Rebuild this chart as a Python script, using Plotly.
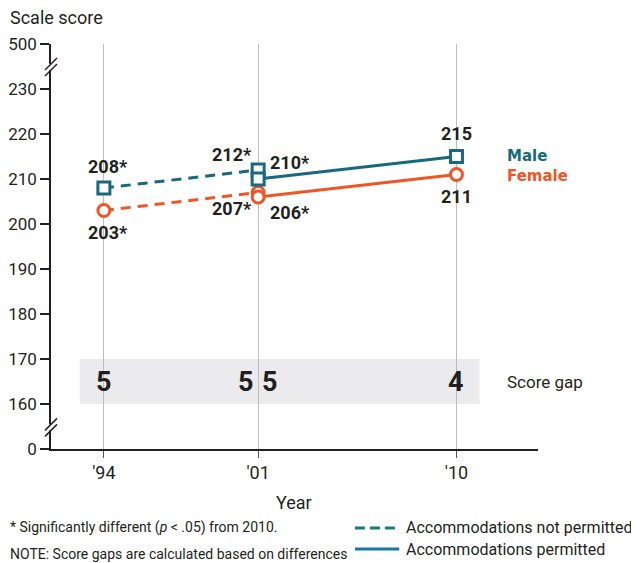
import plotly.graph_objects as go

# ---------------- data ----------------
years_np = [1994, 2001]          # accommodations not permitted
years_p = [2001, 2010]           # accommodations permitted
male_np = [208, 212]
male_p = [210, 215]
female_np = [203, 207]
female_p = [206, 211]
sig_np = [True, True]
sig_p = [True, False]
gap_years = [1994, 2001, 2001, 2010]
gap_values = [5, 5, 5, 4]        # computed from unrounded scores
gap_shift = [0, -12, 12, 0]

tick_years = [1994, 2001, 2010]
tick_year_labels = ["'94", "'01", "'10"]
y_tickvals = [150, 160, 170, 180, 190, 200, 210, 220, 230, 240]
y_ticktext = ["0", "160", "170", "180", "190", "200", "210", "220", "230", "500"]

MALE = "#17697f"
FEMALE = "#ee5527"
TEXT = "#231f20"
NARROW = "Roboto, Lato, sans-serif"
WIDE = "DejaVu Sans, sans-serif"

fig = go.Figure()

def add_series(x, y, color, symbol, dash):
    fig.add_trace(go.Scatter(
        x=x, y=y, mode="lines+markers",
        line=dict(color=color, width=3, dash=dash),
        marker=dict(symbol=symbol, size=12, color="white",
                    line=dict(color=color, width=3)),
        showlegend=False, hoverinfo="x+y"))

add_series(years_np, male_np, MALE, "square", "10px,7px")
add_series(years_np, female_np, FEMALE, "circle", "10px,7px")
add_series(years_p, male_p, MALE, "square", "solid")
add_series(years_p, female_p, FEMALE, "circle", "solid")

ann = []
def lab(x, y, v, sig, xanchor, xshift, yshift):
    ann.append(dict(x=x, y=y, xref="x", yref="y", text=f"{v}{'*' if sig else ''}",
                    showarrow=False, xanchor=xanchor, yanchor="middle",
                    xshift=xshift, yshift=yshift,
                    font=dict(family=NARROW, size=18, color=TEXT, weight="bold")))

# 1994 labels
lab(years_np[0], male_np[0], male_np[0], sig_np[0], "center", 4, 22)
lab(years_np[0], female_np[0], female_np[0], sig_np[0], "center", 4, -22)
# 2001 labels
lab(years_np[1], male_np[1], male_np[1], sig_np[1], "right", -4, 16)
lab(years_p[0], male_p[0], male_p[0], sig_p[0], "left", 10, 17)
lab(years_np[1], female_np[1], female_np[1], sig_np[1], "right", -4, -16)
lab(years_p[0], female_p[0], female_p[0], sig_p[0], "left", 10, -15)
# 2010 labels
lab(years_p[1], male_p[1], male_p[1], sig_p[1], "center", 0, 23)
lab(years_p[1], female_p[1], female_p[1], sig_p[1], "center", 0, -22)

# score gaps
gap_y = 165
for gx, gv, sh in zip(gap_years, gap_values, gap_shift):
    ann.append(dict(x=gx, y=gap_y, xref="x", yref="y", text=str(gv), showarrow=False,
                    xshift=sh, font=dict(family=NARROW, size=27, color=TEXT, weight="bold")))

label_x = 2012.2
ann.append(dict(x=label_x, y=gap_y, xref="x", yref="y", text="Score gap", showarrow=False,
                xanchor="left", font=dict(family=NARROW, size=17, color=TEXT)))
ann.append(dict(x=label_x, y=male_p[-1], xref="x", yref="y", text="Male", showarrow=False,
                xanchor="left", yshift=1, font=dict(family=WIDE, size=15, color=MALE, weight="bold")))
ann.append(dict(x=label_x, y=female_p[-1], xref="x", yref="y", text="Female", showarrow=False,
                xanchor="left", yshift=-1, font=dict(family=WIDE, size=15, color=FEMALE, weight="bold")))

ann.append(dict(x=-0.0883, y=1.066, xref="paper", yref="paper", text="Scale score",
                showarrow=False, xanchor="left", yanchor="middle",
                font=dict(family=NARROW, size=18, color=TEXT)))
ann.append(dict(x=0.499, y=-0.131, xref="paper", yref="paper", text="Year",
                showarrow=False, xanchor="center", yanchor="middle",
                font=dict(family=NARROW, size=18, color=TEXT)))
ann.append(dict(x=-0.0883, y=-0.195, xref="paper", yref="paper",
                text="* Significantly different (<i>p</i> < .05) from 2010.",
                showarrow=False, xanchor="left", yanchor="middle",
                font=dict(family=NARROW, size=14, color=TEXT)))
ann.append(dict(x=-0.0883, y=-0.26, xref="paper", yref="paper",
                text="NOTE: Score gaps are calculated based on differences",
                showarrow=False, xanchor="left", yanchor="middle",
                font=dict(family=NARROW, size=14, color=TEXT)))
ann.append(dict(x=0.724, y=-0.195, xref="paper", yref="paper",
                text="Accommodations not permitted",
                showarrow=False, xanchor="left", yanchor="middle",
                font=dict(family=NARROW, size=16, color=TEXT)))
ann.append(dict(x=0.724, y=-0.247, xref="paper", yref="paper",
                text="Accommodations permitted",
                showarrow=False, xanchor="left", yanchor="middle",
                font=dict(family=NARROW, size=16, color=TEXT)))

shapes = [
    # score-gap band
    dict(type="rect", xref="x", yref="y", x0=1992.9, x1=2011.05, y0=160, y1=170,
         fillcolor="#ebebee", line=dict(width=0), layer="below"),
    # legend lines
    dict(type="line", xref="paper", yref="paper", x0=0.624, x1=0.715, y0=-0.195, y1=-0.195,
         line=dict(color="#1a7a7a", width=3, dash="10px,5px")),
    dict(type="line", xref="paper", yref="paper", x0=0.624, x1=0.715, y0=-0.247, y1=-0.247,
         line=dict(color="#1a76a6", width=3)),
]
# axis breaks
for yb in (234.9, 154.8):
    shapes.append(dict(type="line", xref="paper", yref="y", xsizemode="pixel", ysizemode="pixel",
                       xanchor=0, yanchor=yb, x0=0, x1=0, y0=-3, y1=3,
                       line=dict(color="white", width=4)))
    for off in (-3, 3):
        shapes.append(dict(type="line", xref="paper", yref="y", xsizemode="pixel", ysizemode="pixel",
                           xanchor=0, yanchor=yb, x0=-6, x1=6, y0=-6 + off, y1=6 + off,
                           line=dict(color=TEXT, width=1.5)))

# the page body adds an 8 px margin, so the plot area is offset by -8 px here
fig.update_layout(
    width=639, height=563,
    margin=dict(l=43, r=109, t=36, b=122, autoexpand=False),
    paper_bgcolor="white", plot_bgcolor="white",
    annotations=ann, shapes=shapes,
    xaxis=dict(range=[1991.6, 2013.7], tickvals=tick_years, ticktext=tick_year_labels,
               showgrid=True, gridcolor="#bdbdbd", gridwidth=1, automargin=False,
               showline=True, linecolor=TEXT, linewidth=1.5,
               ticks="outside", ticklen=7, tickcolor="#555", tickwidth=1,
               tickfont=dict(family=NARROW, size=18, color=TEXT), zeroline=False),
    yaxis=dict(range=[150, 240], tickvals=y_tickvals, ticktext=y_ticktext, automargin=False,
               showgrid=False, showline=True, linecolor=TEXT, linewidth=1.5,
               ticks="outside", ticklen=9, tickcolor=TEXT, tickwidth=1.5,
               tickfont=dict(family=NARROW, size=17, color=TEXT), zeroline=False),
)

fig.write_html("out.html")
